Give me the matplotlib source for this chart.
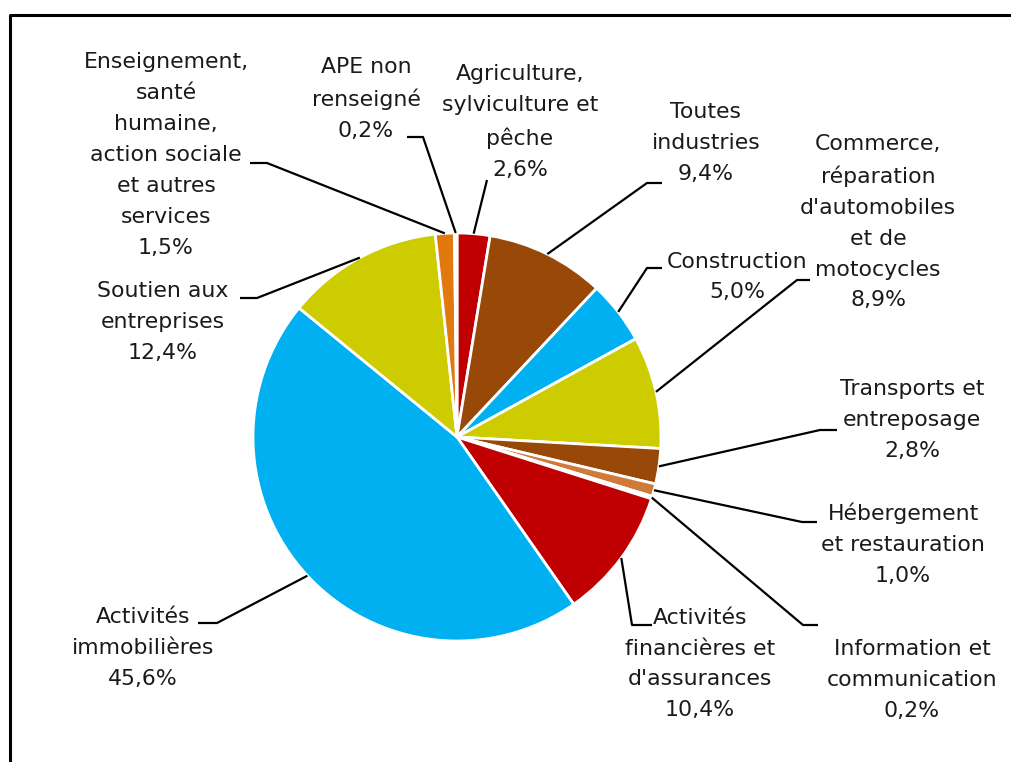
import numpy as np
import matplotlib
matplotlib.use("Agg")
import matplotlib.pyplot as plt
from matplotlib.lines import Line2D

W, H = 1011, 762

# Sectors, clockwise from 12 o'clock
sectors = [
    "Agriculture,\nsylviculture et\npêche",
    "Toutes\nindustries",
    "Construction",
    "Commerce,\nréparation\nd'automobiles\net de\nmotocycles",
    "Transports et\nentreposage",
    "Hébergement\net restauration",
    "Information et\ncommunication",
    "Activités\nfinancières et\nd'assurances",
    "Activités\nimmobilières",
    "Soutien aux\nentreprises",
    "Enseignement,\nsanté\nhumaine,\naction sociale\net autres\nservices",
    "APE non\nrenseigné",
]
shares = [2.6, 9.4, 5.0, 8.9, 2.8, 1.0, 0.2, 10.4, 45.6, 12.4, 1.5, 0.2]
colors = ["#C00000", "#984807", "#00B0F0", "#CCCC00", "#984807", "#D07A3A",
          "#F2B680", "#C00000", "#00B0F0", "#CCCC00", "#E2790F", "#F5B070"]

# label block centres and leader elbows (pixel coords, y from top)
label_pos = [(520, 122), (706, 143), (737, 277), (878, 222), (912, 420), (903, 544),
             (912, 680), (700, 664), (143, 648), (163, 322), (166, 155), (366, 99)]
leader_start = [(487, 180), (662, 183), (662, 268), (810, 280), (837, 430), (817, 522),
                (818, 625), (652, 625), (198, 623), (240, 298), (250, 163), (407, 137)]
leader_elbow = [None, (647, 183), (647, 268), (797, 280), (820, 430), (802, 522),
                (803, 625), (632, 625), (217, 623), (257, 298), (267, 163), (423, 137)]

cx, cy, radius = 457, 437, 204

plt.rcParams["font.family"] = ["DejaVu Sans"]

fig = plt.figure(figsize=(W / 100, H / 100), dpi=100)
ax = fig.add_axes([0, 0, 1, 1])

wedges, _ = ax.pie(shares, colors=colors, startangle=90, counterclock=False,
                   center=(cx, H - cy), radius=radius, frame=True,
                   wedgeprops=dict(edgecolor="white", linewidth=2))
ax.set_xlim(0, W)
ax.set_ylim(0, H)
ax.set_aspect("equal")
ax.axis("off")

total = sum(shares)
cum = 0.0
for name, v, (lx, ly), st, el in zip(sectors, shares, label_pos, leader_start, leader_elbow):
    mid = cum + v / 2
    cum += v
    ang = np.deg2rad(90 - mid / total * 360)
    ex = cx + radius * np.cos(ang)
    ey = cy - radius * np.sin(ang)
    pts = [st] + ([el] if el else []) + [(ex, ey)]
    xs = [p[0] for p in pts]
    ys = [H - p[1] for p in pts]
    ax.plot(xs, ys, color="black", lw=1.6, solid_capstyle="butt", zorder=3)
    txt = f"{name}\n{v:.1f}%".replace(".", ",")
    ax.text(lx, H - ly, txt, ha="center", va="center", multialignment="center",
            fontsize=15.8, color="#1a1a1a", linespacing=1.68)

# outer frame (top and left edges)
fig.add_artist(Line2D([9.5 / W, 9.5 / W, 1], [0, 1 - 15 / H, 1 - 15 / H],
                      transform=fig.transFigure, color="black", lw=2.2))

fig.savefig("out.png", dpi=100)
